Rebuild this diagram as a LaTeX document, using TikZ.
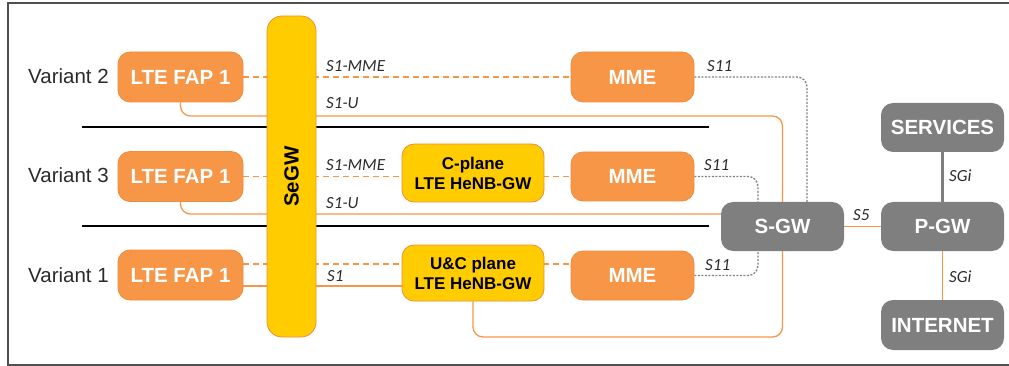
\documentclass[tikz,border=0pt]{standalone}
\usepackage{fontspec}
\setmainfont{Liberation Sans}
\newfontfamily\lblfont{Carlito}
\usetikzlibrary{backgrounds}
\definecolor{faporange}{HTML}{F79646}
\definecolor{fapedge}{HTML}{EE8C3F}
\definecolor{gwyellow}{HTML}{FFCC00}
\definecolor{coregray}{HTML}{7F7F7F}
\definecolor{framegray}{HTML}{505050}
\definecolor{txtgray}{HTML}{2B2B2B}
\definecolor{dotgray}{HTML}{808080}
\tikzset{
  fapbox/.style={draw=fapedge, line width=0.8pt, fill=faporange, rounded corners=12pt, text=white,
    inner sep=0pt, minimum width=125pt, minimum height=50pt, font=\fontsize{20.5}{24}\selectfont\bfseries},
  gwbox/.style={draw=fapedge, line width=0.8pt, fill=gwyellow, rounded corners=12pt, text=black,
    inner sep=0pt, align=center, font=\fontsize{17}{20}\selectfont\bfseries},
  corebox/.style={fill=coregray, rounded corners=12pt, text=white, inner sep=0pt,
    minimum width=123pt, minimum height=49pt, font=\fontsize{20.5}{24}\selectfont\bfseries},
  lbl/.style={anchor=base west, inner sep=0pt, text=txtgray, font=\fontsize{17}{20}\lblfont\itshape},
  varlbl/.style={anchor=base west, inner sep=0pt, text=txtgray, font=\fontsize{20.5}{24}\selectfont},
  cline/.style={draw=faporange, line width=1.3pt, dash pattern=on 6pt off 4pt},
  uline/.style={draw=faporange, line width=1.3pt, rounded corners=10pt},
  s11line/.style={draw=dotgray, line width=1.3pt, dash pattern=on 2pt off 1.5pt, rounded corners=10pt},
  sepline/.style={draw=black, line width=1.3pt}
}
\begin{document}
\begin{tikzpicture}[x=1pt, y=-1pt]
\useasboundingbox (0,0) rectangle (1009,366);
\draw[framegray, line width=2pt] (1009,3) -- (8,3) -- (8,365) -- (1009,365);

% variants
\node[varlbl] (var2) at (28,83.5) {Variant 2};
\node[varlbl] (var3) at (28,183) {Variant 3};
\node[varlbl] (var1) at (28,282) {Variant 1};

\node[fapbox] (fapA) at (180.5,77) {LTE FAP 1};
\node[fapbox] (fapB) at (180.5,176.5) {LTE FAP 1};
\node[fapbox] (fapC) at (180.5,275) {LTE FAP 1};

\node[gwbox, rounded corners=15pt, minimum width=49pt, minimum height=321pt] (segw) at (291.5,176.5)
  {\rotatebox{90}{\fontsize{20.5}{24}\selectfont SeGW}};

\node[gwbox, minimum width=142pt, minimum height=58pt] (cgw) at (473,173) {C-plane\\LTE HeNB-GW};
\node[gwbox, minimum width=142pt, minimum height=56pt] (ucgw) at (473,273) {U\&C plane\\LTE HeNB-GW};

\node[fapbox, minimum width=123pt] (mmeA) at (632.5,77) {MME};
\node[fapbox, minimum width=123pt, minimum height=49pt] (mmeB) at (632.5,176.5) {MME};
\node[fapbox, minimum width=123pt, minimum height=49pt] (mmeC) at (632.5,275.5) {MME};

% core
\node[corebox] (sgw) at (782.5,226.5) {S-GW};
\node[corebox] (pgw) at (942.5,226.5) {P-GW};
\node[corebox] (serv) at (942.5,127.5) {SERVICES};
\node[corebox, minimum height=50pt] (inet) at (942.5,325) {INTERNET};

\coordinate (uA) at (782.5,116);
\coordinate (uC) at (782.5,337);

\begin{pgfonlayer}{background}
\draw[sepline] (82,127) -- (709,127);
\draw[sepline] (82,226) -- (709,226);
% variant 2
\draw[cline] (fapA.east) -- (mmeA.west);
\draw[uline] (fapA.south) |- (uA) -- (sgw.north);
\draw[s11line] (mmeA.east) -| ([xshift=24.5pt]sgw.north);
% variant 3
\draw[cline] (fapB.east) -- (mmeB.west);
\draw[uline] (fapB.south) |- ([yshift=12.5pt]sgw.west);
\draw[s11line] (mmeB.east) -| ([xshift=-24.5pt]sgw.north);
% variant 1
\draw[cline] ([yshift=11pt]fapC.east) -- ([yshift=11pt]fapC.east -| mmeC.west);
\draw[uline] ([yshift=-11pt]fapC.east) -- ([yshift=-11pt]fapC.east -| ucgw.west);
\draw[uline] (ucgw.south) |- (uC) -- (sgw.south);
\draw[s11line] (mmeC.east) -| ([xshift=-24.5pt]sgw.south);
% core links
\draw[uline] (sgw.east) -- (pgw.west);
\draw[draw=coregray, line width=3pt] (serv) -- (pgw);
\draw[uline] (pgw) -- (inet);
\end{pgfonlayer}

% interface labels
\node[lbl] (lmmeA) at (326,72) {S1-MME};
\node[lbl] (luA) at (326,109) {S1-U};
\node[lbl] (lmmeB) at (326,171) {S1-MME};
\node[lbl] (luB) at (326,209) {S1-U};
\node[lbl] (lsC) at (327,281) {S1};
\node[lbl] (lsA) at (707,72) {S11};
\node[lbl] (lsB) at (704,171) {S11};
\node[lbl] (lsD) at (705,270) {S11};
\node[lbl] (lfive) at (853,220) {S5};
\node[lbl] (lsgiA) at (949,182) {SGi};
\node[lbl] (lsgiB) at (949,282) {SGi};
\end{tikzpicture}
\end{document}
